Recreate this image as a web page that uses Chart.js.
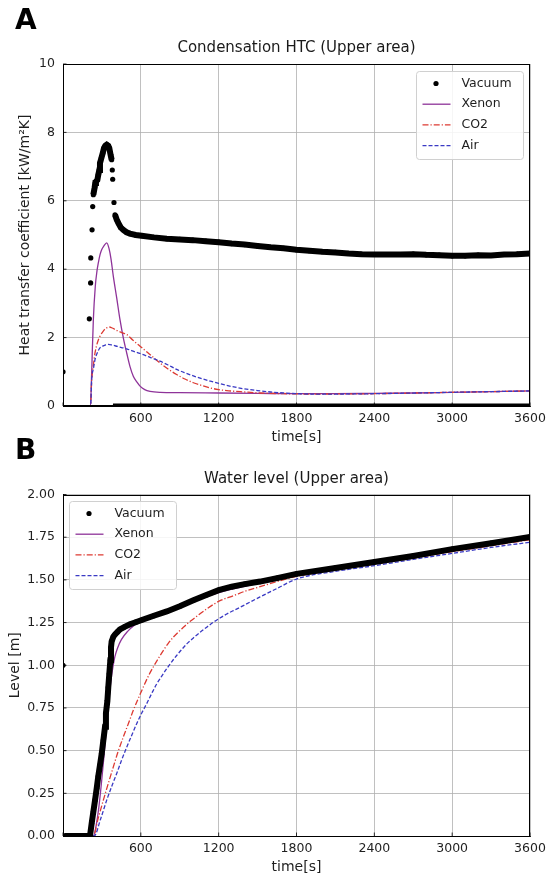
<!DOCTYPE html>
<html><head><meta charset="utf-8">
<script src="https://cdn.jsdelivr.net/npm/chart.js@4.4.1/dist/chart.umd.min.js"></script>
<style>
html,body{margin:0;padding:0;background:#fff;}
#wrap{position:relative;width:554px;height:877px;overflow:hidden;font-family:"DejaVu Sans",sans-serif;}
canvas{position:absolute;left:0;}
.ttl{position:absolute;left:0;width:593px;text-align:center;font-size:15px;line-height:18px;color:#1a1a1a;z-index:2;}
.lbl{position:absolute;left:15px;font-weight:bold;font-size:28px;line-height:30px;color:#000;z-index:2;}
</style></head>
<body>
<div id="wrap">
  <div class="lbl" style="top:5px">A</div>
  <div class="ttl" style="top:38px">Condensation HTC (Upper area)</div>
  <canvas id="cA" width="554" height="446" style="top:0"></canvas>
  <div class="lbl" style="top:435px">B</div>
  <div class="ttl" style="top:469px">Water level (Upper area)</div>
  <canvas id="cB" width="554" height="431" style="top:446px"></canvas>
</div>
<script>
// ---------- tick labels ----------
const timeTicks = [0, 600, 1200, 1800, 2400, 3000, 3600];
const htcTicks = [0, 2, 4, 6, 8, 10];
const levelTicks = [0, 0.25, 0.5, 0.75, 1.0, 1.25, 1.5, 1.75, 2.0];
const seriesNames = ['Vacuum', 'Xenon', 'CO2', 'Air'];

// ---------- A: condensation HTC [kW/m2K] ----------
const htcVacuumT = [0, 203, 213, 214, 224, 229, 234, 244, 249, 254, 265, 272, 280, 285, 296, 306, 316, 326, 337, 349, 357, 367, 375, 380, 383, 393, 401, 414, 427, 445, 465, 490, 516, 560, 607, 700, 800, 900, 1000, 1100, 1200, 1300, 1400, 1500, 1600, 1700, 1800, 1900, 2000, 2100, 2200, 2300, 2400, 2500, 2600, 2700, 2800, 2900, 3000, 3100, 3200, 3300, 3400, 3500, 3600];
const htcVacuum = [1.0, 2.55, 3.6, 4.33, 5.15, 5.83, 6.18, 6.39, 6.52, 6.56, 6.61, 6.76, 6.9, 7.1, 7.25, 7.39, 7.54, 7.61, 7.64, 7.61, 7.54, 7.34, 7.2, 6.9, 6.63, 5.95, 5.59, 5.45, 5.35, 5.22, 5.15, 5.08, 5.04, 5.0, 4.98, 4.93, 4.89, 4.87, 4.85, 4.82, 4.79, 4.75, 4.72, 4.68, 4.64, 4.61, 4.57, 4.54, 4.51, 4.49, 4.46, 4.44, 4.43, 4.43, 4.43, 4.44, 4.42, 4.41, 4.39, 4.39, 4.41, 4.40, 4.43, 4.44, 4.46];
const htcVacuumZeroT = [385, 3600];
const htcVacuumZero = [0, 0];
const htcXenonT = [0, 212, 218, 224, 234, 249, 262, 272, 285, 298, 315, 337, 355, 370, 388, 414, 439, 465, 491, 516, 542, 570, 594, 630, 671, 750, 900, 1200, 1500, 1800, 2100, 2400, 2700, 3000, 3300, 3600];
const htcXenon = [0, 0, 0.6, 1.36, 2.53, 3.5, 3.95, 4.18, 4.42, 4.57, 4.68, 4.77, 4.6, 4.3, 3.79, 3.16, 2.53, 1.99, 1.55, 1.16, 0.87, 0.70, 0.58, 0.48, 0.43, 0.40, 0.39, 0.38, 0.37, 0.36, 0.36, 0.37, 0.38, 0.40, 0.42, 0.44];
const htcCO2T = [0, 213, 218, 224, 236, 247, 265, 285, 305, 324, 340, 357, 380, 420, 460, 491, 540, 594, 650, 700, 748, 810, 876, 940, 1005, 1070, 1133, 1200, 1262, 1400, 1519, 1700, 1900, 2400, 3000, 3600];
const htcCO2 = [0, 0, 0.5, 0.87, 1.25, 1.56, 1.85, 2.04, 2.16, 2.25, 2.29, 2.31, 2.28, 2.2, 2.14, 2.09, 1.92, 1.75, 1.57, 1.41, 1.26, 1.08, 0.92, 0.79, 0.68, 0.6, 0.53, 0.48, 0.45, 0.41, 0.38, 0.36, 0.35, 0.36, 0.40, 0.44];
const htcAirT = [0, 213, 221, 235, 247, 265, 285, 310, 330, 349, 380, 420, 491, 550, 619, 680, 748, 810, 876, 940, 1005, 1070, 1133, 1200, 1300, 1400, 1500, 1600, 1700, 1800, 1900, 2100, 2400, 3000, 3600];
const htcAir = [0, 0, 0.77, 1.1, 1.36, 1.56, 1.70, 1.76, 1.79, 1.80, 1.78, 1.74, 1.67, 1.59, 1.50, 1.41, 1.31, 1.2, 1.07, 0.97, 0.88, 0.8, 0.73, 0.66, 0.57, 0.5, 0.45, 0.41, 0.38, 0.36, 0.35, 0.35, 0.36, 0.4, 0.44];

// ---------- B: water level [m] ----------
const lvlVacuumT = [0, 10, 100, 208, 221, 234, 247, 260, 272, 285, 298, 311, 324, 331, 342, 349, 357, 365, 370, 375, 388, 401, 420, 439, 475, 516, 560, 607, 700, 800, 900, 1005, 1100, 1200, 1300, 1400, 1519, 1650, 1800, 2100, 2400, 2700, 3000, 3300, 3600];
const lvlVacuum = [1.0, 0, 0, 0, 0.074, 0.142, 0.21, 0.28, 0.35, 0.415, 0.48, 0.56, 0.64, 0.72, 0.79, 0.87, 0.95, 1.03, 1.105, 1.14, 1.167, 1.18, 1.195, 1.21, 1.225, 1.24, 1.252, 1.265, 1.29, 1.315, 1.345, 1.38, 1.41, 1.44, 1.46, 1.475, 1.49, 1.51, 1.535, 1.57, 1.605, 1.64, 1.68, 1.715, 1.752];
const lvlXenonT = [0, 235, 255, 275, 295, 315, 335, 352, 368, 385, 400, 420, 450, 500, 550, 600, 700, 800, 900, 1000, 1200, 1500, 1800, 2100, 2400, 3000, 3600];
const lvlXenon = [0, 0, 0.06, 0.16, 0.3, 0.46, 0.63, 0.78, 0.9, 0.99, 1.05, 1.1, 1.15, 1.2, 1.235, 1.258, 1.285, 1.31, 1.34, 1.37, 1.425, 1.478, 1.525, 1.563, 1.597, 1.668, 1.74];
const lvlCO2T = [0, 234, 270, 311, 350, 388, 425, 465, 505, 542, 580, 619, 657, 696, 735, 773, 810, 850, 890, 928, 965, 1005, 1108, 1210, 1313, 1416, 1519, 1650, 1800, 2100, 2400, 2700, 3000, 3300, 3600];
const lvlCO2 = [0, 0, 0.1, 0.21, 0.31, 0.405, 0.495, 0.58, 0.66, 0.736, 0.805, 0.872, 0.935, 0.99, 1.04, 1.086, 1.127, 1.164, 1.195, 1.222, 1.248, 1.271, 1.33, 1.378, 1.407, 1.437, 1.46, 1.49, 1.52, 1.558, 1.593, 1.628, 1.665, 1.7, 1.735];
const lvlAirT = [0, 240, 290, 337, 375, 414, 452, 491, 530, 568, 607, 645, 684, 722, 760, 799, 838, 876, 915, 954, 1005, 1056, 1108, 1159, 1210, 1262, 1313, 1364, 1442, 1519, 1650, 1800, 2100, 2400, 2700, 3000, 3300, 3600];
const lvlAir = [0, 0, 0.1, 0.21, 0.29, 0.366, 0.445, 0.52, 0.59, 0.658, 0.72, 0.775, 0.835, 0.89, 0.935, 0.979, 1.02, 1.057, 1.092, 1.125, 1.16, 1.193, 1.223, 1.252, 1.277, 1.30, 1.32, 1.339, 1.37, 1.4, 1.45, 1.505, 1.55, 1.583, 1.62, 1.655, 1.69, 1.72];

// ---------- helpers ----------
const pts = (ts, vs) => ts.map((t, i) => ({x: t, y: vs[i]}));
const COL = {vac: '#000000', xe: '#8e3399', co2: '#dd3a32', air: '#3a3ac4'};
const TXT = '#1f1f1f';
Chart.defaults.font.family = '"DejaVu Sans", sans-serif';
Chart.defaults.font.size = 12.5;
Chart.defaults.color = TXT;

function vacuumSet(data, gap) {
  return {label: seriesNames[0], data, order: 0, legendMarker: 'dot',
    borderColor: COL.vac, backgroundColor: COL.vac, borderWidth: 6, clip: 0,
    pointRadius: 2.6, pointBorderWidth: 0, pointBackgroundColor: COL.vac, tension: 0,
    segment: {borderColor: c => Math.abs(c.p1.parsed.y - c.p0.parsed.y) > gap ? 'rgba(0,0,0,0)' : COL.vac}};
}
function lineSet(i, data, color, dash, order) {
  return {label: seriesNames[i], data, order, borderColor: color, backgroundColor: color,
    borderWidth: 1.3, borderDash: dash, pointRadius: 0, cubicInterpolationMode: 'monotone'};
}

const framePlugin = {
  id: 'frame',
  afterDatasetsDraw(chart) {
    const {ctx, chartArea: a, scales} = chart;
    ctx.save();
    ctx.strokeStyle = '#000'; ctx.lineWidth = 1;
    ctx.strokeRect(Math.round(a.left) + 0.5, Math.round(a.top) + 0.5, Math.round(a.right - a.left) - 1, Math.round(a.bottom - a.top) - 1);
    ctx.lineWidth = 0.8;
    ctx.beginPath();
    scales.x.ticks.forEach(t => { const p = scales.x.getPixelForValue(t.value); ctx.moveTo(p, a.bottom); ctx.lineTo(p, a.bottom - 3.5); });
    scales.y.ticks.forEach(t => { const p = scales.y.getPixelForValue(t.value); ctx.moveTo(a.left, p); ctx.lineTo(a.left + 3.5, p); });
    ctx.stroke();
    ctx.restore();
  }
};

const boxLegend = {
  id: 'boxLegend',
  afterDraw(chart, args, opts) {
    const {ctx, chartArea: a} = chart;
    const items = chart.data.datasets.filter(d => !d.hideInLegend);
    const w = 107, h = 88;
    const x0 = opts.side === 'right' ? Math.round(a.right - 7 - w) + 0.5 : Math.round(a.left + 6) + 0.5;
    const y0 = Math.round(a.top + 6.5) + 0.5;
    ctx.save();
    ctx.beginPath();
    ctx.roundRect(x0, y0, w, h, 3);
    ctx.fillStyle = 'rgba(255,255,255,0.85)'; ctx.fill();
    ctx.strokeStyle = '#d0d0d0'; ctx.lineWidth = 1; ctx.stroke();
    items.forEach((d, i) => {
      const cy = y0 + 12 + i * 20.7;
      if (d.legendMarker === 'dot') {
        ctx.beginPath(); ctx.fillStyle = d.borderColor || '#000';
        ctx.arc(x0 + 19.5, cy, 2.6, 0, Math.PI * 2); ctx.fill();
      } else {
        ctx.beginPath(); ctx.setLineDash(d.borderDash || []);
        ctx.strokeStyle = d.borderColor; ctx.lineWidth = d.borderWidth;
        ctx.moveTo(x0 + 6, cy); ctx.lineTo(x0 + 34, cy); ctx.stroke(); ctx.setLineDash([]);
      }
      ctx.fillStyle = TXT; ctx.font = '12.5px "DejaVu Sans", sans-serif';
      ctx.textBaseline = 'middle'; ctx.textAlign = 'left';
      ctx.fillText(d.label, x0 + 45, cy);
    });
    ctx.restore();
  }
};

function scalesFor(yVals, yMax, yTitle, yTitlePad, fmt, xHeight, xTitlePadB) {
  return {
    x: {type: 'linear', min: 0, max: 3600,
      afterBuildTicks: s => { s.ticks = timeTicks.map(v => ({value: v})); },
      afterFit: s => { s.height = xHeight; },
      grid: {color: '#b0b0b0', lineWidth: 0.8, drawTicks: false},
      border: {display: true, color: '#000', width: 1},
      ticks: {padding: 5.5, maxRotation: 0, autoSkip: false, callback: v => v === 0 ? '' : String(v)},
      title: {display: true, text: 'time[s]', font: {size: 14}, padding: {top: 0, bottom: xTitlePadB}}},
    y: {type: 'linear', min: 0, max: yMax,
      afterBuildTicks: s => { s.ticks = yVals.map(v => ({value: v})); },
      afterFit: s => { s.width = 63; },
      grid: {color: '#b0b0b0', lineWidth: 0.8, drawTicks: false},
      border: {display: true, color: '#000', width: 1},
      ticks: {padding: 8, callback: fmt},
      title: {display: true, text: yTitle, font: {size: 14}, padding: {top: yTitlePad, bottom: 0}}}
  };
}

const common = {responsive: false, animation: false, devicePixelRatio: 1,
  plugins: {legend: {display: false}, tooltip: {enabled: false}}, events: []};

new Chart(document.getElementById('cA'), {
  type: 'line',
  data: {datasets: [
    vacuumSet(pts(htcVacuumT, htcVacuum), 0.22),
    lineSet(1, pts(htcXenonT, htcXenon), COL.xe, [], 3),
    lineSet(2, pts(htcCO2T, htcCO2), COL.co2, [6, 2, 1.2, 2], 2),
    lineSet(3, pts(htcAirT, htcAir), COL.air, [4, 2], 1),
    {label: 'Vacuum', hideInLegend: true, data: pts(htcVacuumZeroT, htcVacuumZero), order: 0,
      borderColor: '#000', borderWidth: 5, pointRadius: 0, clip: 0}
  ]},
  options: Object.assign({}, common, {
    layout: {padding: {top: 64, right: 24, bottom: 0, left: 0}},
    scales: scalesFor(htcTicks, 10, 'Heat transfer coefficient [kW/m\u00b2K]', 16.6, v => String(v), 40, 0),
    plugins: Object.assign({}, common.plugins, {boxLegend: {side: 'right'}})
  }),
  plugins: [framePlugin, boxLegend]
});

new Chart(document.getElementById('cB'), {
  type: 'line',
  data: {datasets: [
    vacuumSet(pts(lvlVacuumT, lvlVacuum), 0.3),
    lineSet(1, pts(lvlXenonT, lvlXenon), COL.xe, [], 3),
    lineSet(2, pts(lvlCO2T, lvlCO2), COL.co2, [6, 2, 1.2, 2], 2),
    lineSet(3, pts(lvlAirT, lvlAir), COL.air, [4, 2], 1)
  ]},
  options: Object.assign({}, common, {
    layout: {padding: {top: 48.5, right: 24, bottom: 0, left: 0}},
    scales: scalesFor(levelTicks, 2, 'Level [m]', 6.6, v => Number(v).toFixed(2), 41, 1.6),
    plugins: Object.assign({}, common.plugins, {boxLegend: {side: 'left'}})
  }),
  plugins: [framePlugin, boxLegend]
});
</script>
</body></html>
